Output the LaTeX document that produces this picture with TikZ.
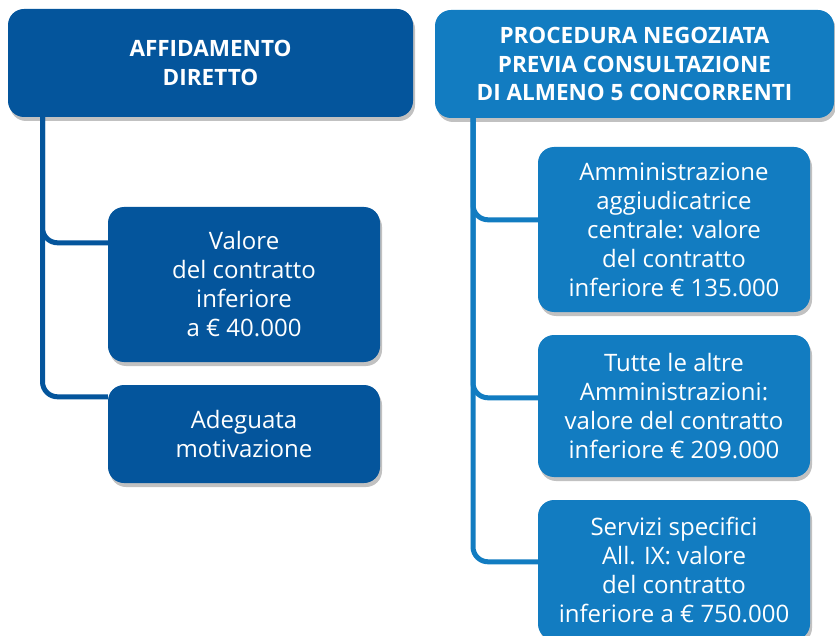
\documentclass[tikz,border=0pt]{standalone}
\usepackage{fontspec}
\setmainfont{Open Sans}
\usetikzlibrary{shadows,positioning}

\definecolor{darkblu}{HTML}{04559C}
\definecolor{lightblu}{HTML}{127CC1}

\begin{document}
\begin{tikzpicture}[x=1pt, y=-1pt,
        box/.style={rectangle, rounded corners=16pt, text=white, align=center, inner sep=0pt,
            drop shadow={shadow xshift=2pt, shadow yshift=-4pt, fill=black!30, opacity=0.8}},
        head/.style={box, font=\fontsize{22.5}{28.5}\selectfont\bfseries},
        item/.style={box, minimum width=272pt, font=\fontsize{24}{29}\selectfont},
        spine/.style={line width=5pt, rounded corners=15pt}]
        \useasboundingbox (0,0) rectangle (835,636);

        \node [head, fill=darkblu, minimum width=405pt, minimum height=108pt] (affid) at (210.5,63) {AFFIDAMENTO\\DIRETTO};
        \node [head, fill=lightblu, minimum width=399pt, minimum height=108pt] (proc) at (634.5,64) {PROCEDURA NEGOZIATA\\PREVIA CONSULTAZIONE\\DI ALMENO 5 CONCORRENTI};

        \node [item, fill=darkblu, minimum height=155pt] (valore) at (244,284.5) {Valore\\del contratto\\inferiore\\a € 40.000};
        \node [item, fill=darkblu, minimum height=98pt] (motiv) at (244,434) {Adeguata\\motivazione};

        \node [item, fill=lightblu, minimum height=165pt] (centrale) at (674,229.5) {Amministrazione\\aggiudicatrice\\centrale: valore\\del contratto\\inferiore € 135.000};
        \node [item, fill=lightblu, minimum height=142pt] (altre) at (674,406) {Tutte le altre\\Amministrazioni:\\valore del contratto\\inferiore € 209.000};
        \node [item, fill=lightblu, minimum height=140pt] (servizi) at (674,570) {Servizi specifici\\All. IX: valore\\del contratto\\inferiore a € 750.000};

        \coordinate (topL) at (42.5,116);
        \coordinate (topR) at (473,116);

        \draw [spine, darkblu] (topL) |- ([yshift=-36pt]valore.north west);
        \draw [spine, darkblu] (topL) |- ([yshift=-12pt]motiv.north west);

        \draw [spine, lightblu] (topR) |- ([yshift=-73pt]centrale.north west);
        \draw [spine, lightblu] (topR) |- ([yshift=-63pt]altre.north west);
        \draw [spine, lightblu] (topR) |- ([yshift=-62pt]servizi.north west);
    \end{tikzpicture}
\end{document}
